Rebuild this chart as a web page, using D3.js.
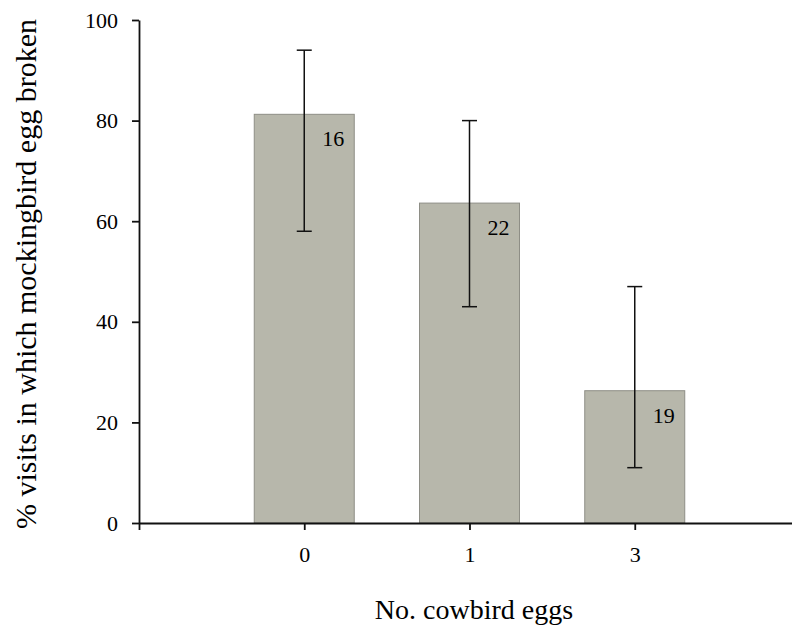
<!doctype html>
<html>
<head>
<script src="https://d3js.org/d3.v7.min.js"></script>
<style>
  body { margin: 0; background: white; }
  text { font-family: "Liberation Serif", "Times New Roman", serif; fill: black; }
</style>
</head>
<body>
<svg id="chart" width="792" height="630"></svg>
<script>
// data
var categories = ["0", "1", "3"];
var percentBroken = [81.25, 63.6, 26.3];
var errLow = [58, 43, 11];
var errHigh = [94, 80, 47];
var sampleSizes = [16, 22, 19];
var yTicks = [0, 20, 40, 60, 80, 100];

var svg = d3.select("#chart");

// x: categories sit at slots 1,2,3 of a 0..4 axis
var x = d3.scaleLinear().domain([0, 4]).range([139, 800]);
var y = d3.scaleLinear().domain([0, 100]).range([523, 20]);
var barW = 100;

// bars
svg.append("g")
  .selectAll("rect")
  .data(categories)
  .enter()
  .append("rect")
    .attr("x", function(d, i) { return x(i + 1) - barW / 2; })
    .attr("y", function(d, i) { return y(percentBroken[i]); })
    .attr("width", barW)
    .attr("height", function(d, i) { return y(0) - y(percentBroken[i]); })
    .attr("fill", "#b7b7ab")
    .attr("stroke", "#8e8e86")
    .attr("stroke-width", 1);

// error bars
var err = svg.append("g").attr("stroke", "#111").attr("stroke-width", 1.5);
categories.forEach(function(d, i) {
  var cx = x(i + 1);
  err.append("line").attr("x1", cx).attr("x2", cx).attr("y1", y(errLow[i])).attr("y2", y(errHigh[i]));
  err.append("line").attr("x1", cx - 7.5).attr("x2", cx + 7.5).attr("y1", y(errLow[i])).attr("y2", y(errLow[i]));
  err.append("line").attr("x1", cx - 7.5).attr("x2", cx + 7.5).attr("y1", y(errHigh[i])).attr("y2", y(errHigh[i]));
});

// sample size labels
svg.append("g")
  .selectAll("text")
  .data(sampleSizes)
  .enter()
  .append("text")
    .attr("x", function(d, i) { return x(i + 1) + 18; })
    .attr("y", function(d, i) { return y(percentBroken[i]) + 32; })
    .style("font-size", "22px")
    .text(function(d) { return d; });

// y axis
var yAxis = svg.append("g")
  .attr("transform", "translate(" + x(0) + ",0)")
  .call(d3.axisLeft(y).tickValues(yTicks).tickSize(7).tickSizeOuter(0));
yAxis.selectAll("text")
  .attr("x", -21)
  .style("font-size", "22px");

// x axis
var xAxis = svg.append("g")
  .attr("transform", "translate(0," + y(0) + ")")
  .call(d3.axisBottom(x).tickValues([0, 1, 2, 3]).tickSize(7).tickSizeOuter(0)
    .tickFormat(function(d) { return d === 0 ? "" : categories[d - 1]; }));
xAxis.selectAll("text")
  .attr("y", 39)
  .attr("dy", 0)
  .style("font-size", "22px");

svg.selectAll(".domain, .tick line").attr("stroke", "#111").attr("stroke-width", 1.8);
svg.selectAll(".tick text").attr("fill", "black").attr("font-family", null);

// axis titles
svg.append("text")
  .attr("x", 474)
  .attr("y", 619)
  .attr("text-anchor", "middle")
  .style("font-size", "28px")
  .text("No. cowbird eggs");

svg.append("text")
  .attr("transform", "translate(36,274) rotate(-90)")
  .attr("text-anchor", "middle")
  .style("font-size", "30px")
  .text("% visits in which mockingbird egg broken");
</script>
</body>
</html>
